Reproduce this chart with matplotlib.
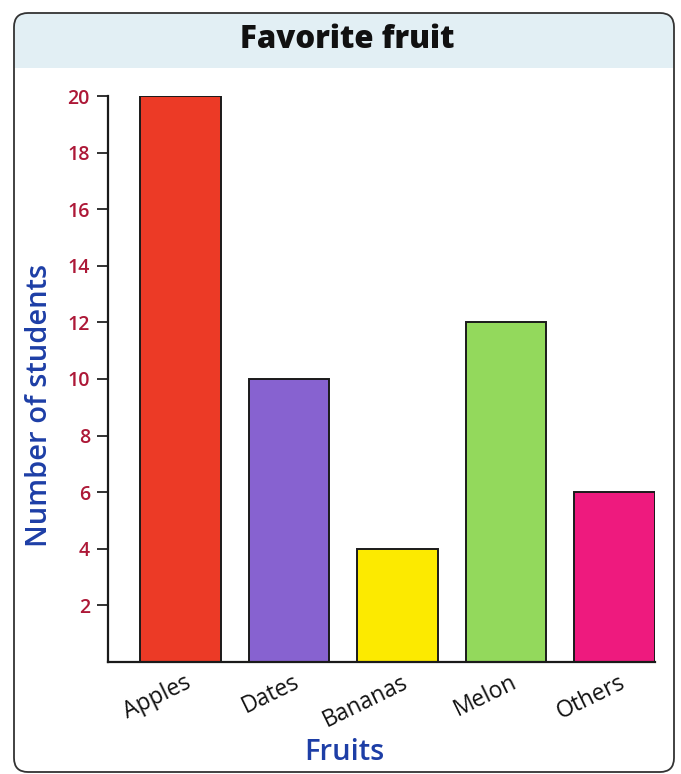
import matplotlib
matplotlib.use("Agg")
import matplotlib.pyplot as plt
from matplotlib.patches import FancyBboxPatch, Rectangle
import matplotlib.transforms as mtransforms

# Survey data
fruits = ["Apples", "Dates", "Bananas", "Melon", "Others"]
students = [20, 10, 4, 12, 6]
bar_colors = ["#ec3a26", "#8762d0", "#fcea00", "#93d95c", "#ee1a7e"]
y_ticks = [2, 4, 6, 8, 10, 12, 14, 16, 18, 20]

FONT = "Open Sans"
W, H = 681, 774
fig = plt.figure(figsize=(W / 100, H / 100), dpi=100)
fig.patch.set_facecolor("white")

# Background layer in pixel coordinates for the card frame and header band
bg = fig.add_axes([0, 0, 1, 1], zorder=0)
bg.set_xlim(0, W)
bg.set_ylim(H, 0)
bg.axis("off")

card = FancyBboxPatch((14, 13), 660, 759, boxstyle="round,pad=0,rounding_size=14",
                      facecolor="white", edgecolor="none")
bg.add_patch(card)
band = Rectangle((10, 10), 670, 58, facecolor="#e2eff4", edgecolor="none")
bg.add_patch(band)
band.set_clip_path(card)
frame = FancyBboxPatch((14, 13), 660, 759, boxstyle="round,pad=0,rounding_size=14",
                       facecolor="none", edgecolor="#333333", linewidth=1.3)
bg.add_patch(frame)

fig.text(347 / W, 1 - 40 / H, "Favorite fruit", ha="center", va="center",
         fontsize=22.5, fontweight="heavy", family=FONT, color="#111111")

# Bar chart
ax = fig.add_axes([108 / W, 1 - 662 / H, (655 - 108) / W, (662 - 96) / H], zorder=1)
ax.patch.set_alpha(0)
x = list(range(len(fruits)))
ax.bar(x, students, width=0.74, color=bar_colors, edgecolor="#1a1a1a", linewidth=1.4)

ax.set_xlim(-0.668, 4.373)
ax.set_ylim(0, 20)
ax.set_yticks(y_ticks)
ax.set_yticklabels([str(v) for v in y_ticks])
ax.tick_params(axis="y", direction="out", length=8, width=1.3, pad=5,
               labelsize=14, labelcolor="#ad1837", color="#222222")
for lbl in ax.get_yticklabels():
    lbl.set_family(FONT)
    lbl.set_fontweight("semibold")

ax.set_xticks(x)
ax.set_xticklabels(fruits, rotation=26, ha="right", rotation_mode="anchor",
                   family=FONT, fontsize=16.5, color="#111111")
ax.tick_params(axis="x", length=0, pad=6)
offset = mtransforms.ScaledTranslation(4 / 100, 0, fig.dpi_scale_trans)
for lbl in ax.get_xticklabels():
    lbl.set_transform(lbl.get_transform() + offset)

for side in ("top", "right"):
    ax.spines[side].set_visible(False)
for side in ("left", "bottom"):
    ax.spines[side].set_linewidth(1.6)
    ax.spines[side].set_color("#1a1a1a")

fig.text(40 / W, 1 - 405 / H, "Number of students", rotation=90, ha="center", va="center",
         fontsize=21, fontweight="semibold", family=FONT, color="#1d3ea6")
fig.text(344 / W, 1 - 752 / H, "Fruits", ha="center", va="center",
         fontsize=21, fontweight="semibold", family=FONT, color="#1d3ea6")

fig.savefig("out.png", dpi=100)
